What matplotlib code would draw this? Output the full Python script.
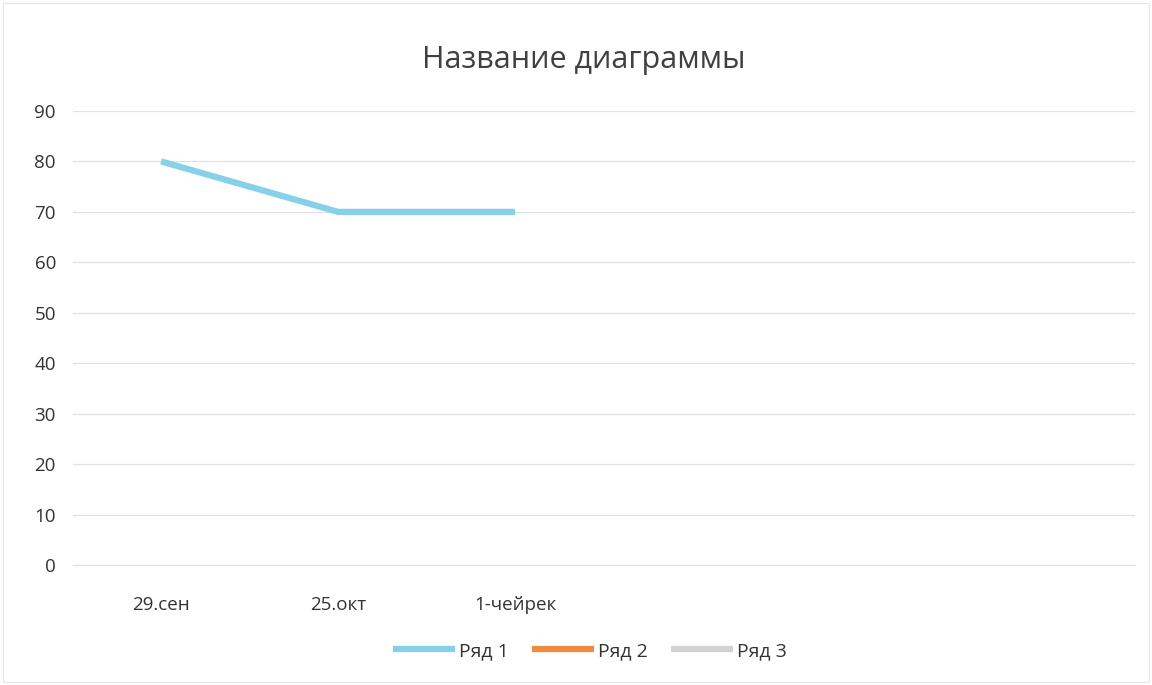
"""
Линейная диаграмма в стиле Excel: Название диаграммы.
"""

import matplotlib.pyplot as plt
import numpy as np

plt.rcParams['font.family'] = ['Open Sans', 'DejaVu Sans']

# Данные
categories = ['29.сен', '25.окт', '1-чейрек', '', '', '']
series_names = ['Ряд 1', 'Ряд 2', 'Ряд 3']
row1 = [80, 70, 70, np.nan, np.nan, np.nan]
row2 = [np.nan] * 6
row3 = [np.nan] * 6
y_ticks = [0, 10, 20, 30, 40, 50, 60, 70, 80, 90]

colors = ['#86d0ea', '#f08a3c', '#d2d2d2']

fig = plt.figure(figsize=(11.52, 6.85), dpi=100, facecolor='white')
ax = fig.add_axes([0.063, 0.175, 0.922, 0.663])

x = np.arange(len(categories))
for name, vals, c in zip(series_names, [row1, row2, row3], colors):
    ax.plot(x, vals, color=c, linewidth=4.5, solid_capstyle='butt', label=name)

ax.set_xlim(-0.5, len(categories) - 0.5)
ax.set_ylim(0, 90)
ax.set_yticks(y_ticks)
ax.set_xticks(x)
ax.set_xticklabels(categories)
ax.tick_params(axis='both', length=0, labelsize=13.5, colors='#333333')
ax.tick_params(axis='x', pad=22)
ax.tick_params(axis='y', pad=12)
ax.grid(True, axis='y', color='#e2e2e2', linewidth=0.9)
ax.set_axisbelow(True)
for s in ax.spines.values():
    s.set_visible(False)
# горизонтальная ось на нуле
ax.spines['bottom'].set_visible(True)
ax.spines['bottom'].set_color('#e2e2e2')
ax.spines['bottom'].set_linewidth(0.9)

fig.text(0.507, 0.913, 'Название диаграммы', ha='center', va='center',
         fontsize=22, color='#404040')

leg = fig.legend(loc='center', bbox_to_anchor=(0.512, 0.05), ncol=3, frameon=False,
                 fontsize=14, handlelength=3.2, handletextpad=0.2, columnspacing=1.2)
for t in leg.get_texts():
    t.set_color('#333333')

# рамка диаграммы
fig.patches.append(plt.Rectangle((0.003, 0.005), 0.994, 0.99, transform=fig.transFigure,
                                 fill=False, edgecolor='#e6e6e6', linewidth=0.8))

plt.savefig('out.png', dpi=100, facecolor='white')
